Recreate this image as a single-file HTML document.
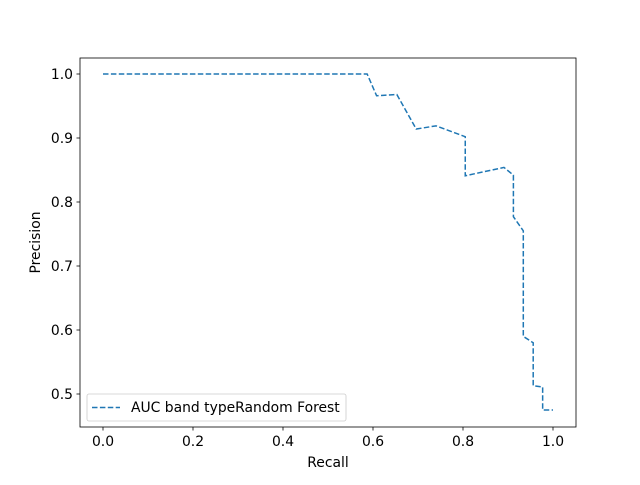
<!DOCTYPE html>
<html><head><meta charset="utf-8"><style>
body{margin:0;background:#fff}
svg text{font-family:"DejaVu Sans","Liberation Sans",sans-serif;font-size:13.9px;fill:#000}
</style></head><body>
<svg width="640" height="480" xmlns="http://www.w3.org/2000/svg">
<rect width="640" height="480" fill="#fff"/>
<g id="plot"></g>
<rect x="80" y="58" width="496" height="369" fill="none" stroke="#000" stroke-width="0.8"/>
<text x="328" y="467" text-anchor="middle">Recall</text>
<text transform="translate(40,242.5) rotate(-90)" text-anchor="middle">Precision</text>
<g>
<rect x="87" y="394" width="259" height="27" rx="2" fill="#fff" fill-opacity="0.8" stroke="#ccc" stroke-width="0.8"/>
<line x1="92" y1="407.5" x2="120" y2="407.5" stroke="#1f77b4" stroke-width="1.5" stroke-dasharray="5.5,2.4"/>
<text x="131" y="412">AUC band typeRandom Forest</text>
</g>
</svg>
<script>
const recall=[0,0.587,0.608,0.653,0.696,0.740,0.805,0.805,0.891,0.912,0.912,0.934,0.934,0.956,0.956,0.977,0.977,1.0];
const precision=[1.0,1.0,0.966,0.968,0.914,0.919,0.902,0.841,0.854,0.842,0.777,0.755,0.590,0.580,0.513,0.511,0.475,0.475];
const xTicks=[0,0.2,0.4,0.6,0.8,1.0];
const xTickLabels=["0.0","0.2","0.4","0.6","0.8","1.0"];
const yTicks=[0.5,0.6,0.7,0.8,0.9,1.0];
const yTickLabels=["0.5","0.6","0.7","0.8","0.9","1.0"];
const sx=v=>103+v*450, sy=v=>74+(1-v)*640;
const NS="http://www.w3.org/2000/svg", g=document.getElementById('plot');
function mk(t,a){const e=document.createElementNS(NS,t);for(const k in a)e.setAttribute(k,a[k]);g.appendChild(e);return e;}
xTicks.forEach((v,i)=>{
 const l=mk('line',{x1:sx(v),x2:sx(v),y1:427,y2:430.5,stroke:'#000','stroke-width':0.8});
 
 
 const t=mk('text',{x:sx(v),y:446,'text-anchor':'middle'});t.textContent=xTickLabels[i];
 
 
});
yTicks.forEach((v,i)=>{
 const l=mk('line',{x1:76.5,x2:80,y1:sy(v),y2:sy(v),stroke:'#000','stroke-width':0.8});
 
 
 const t=mk('text',{x:73,y:sy(v)+5,'text-anchor':'end'});t.textContent=yTickLabels[i];
 
 
});
const p=mk('polyline',{points:recall.map((r,i)=>sx(r)+','+sy(precision[i])).join(' '),fill:'none',stroke:'#1f77b4','stroke-width':1.5,'stroke-dasharray':'5.5,2.4'});


</script>
</body></html>
